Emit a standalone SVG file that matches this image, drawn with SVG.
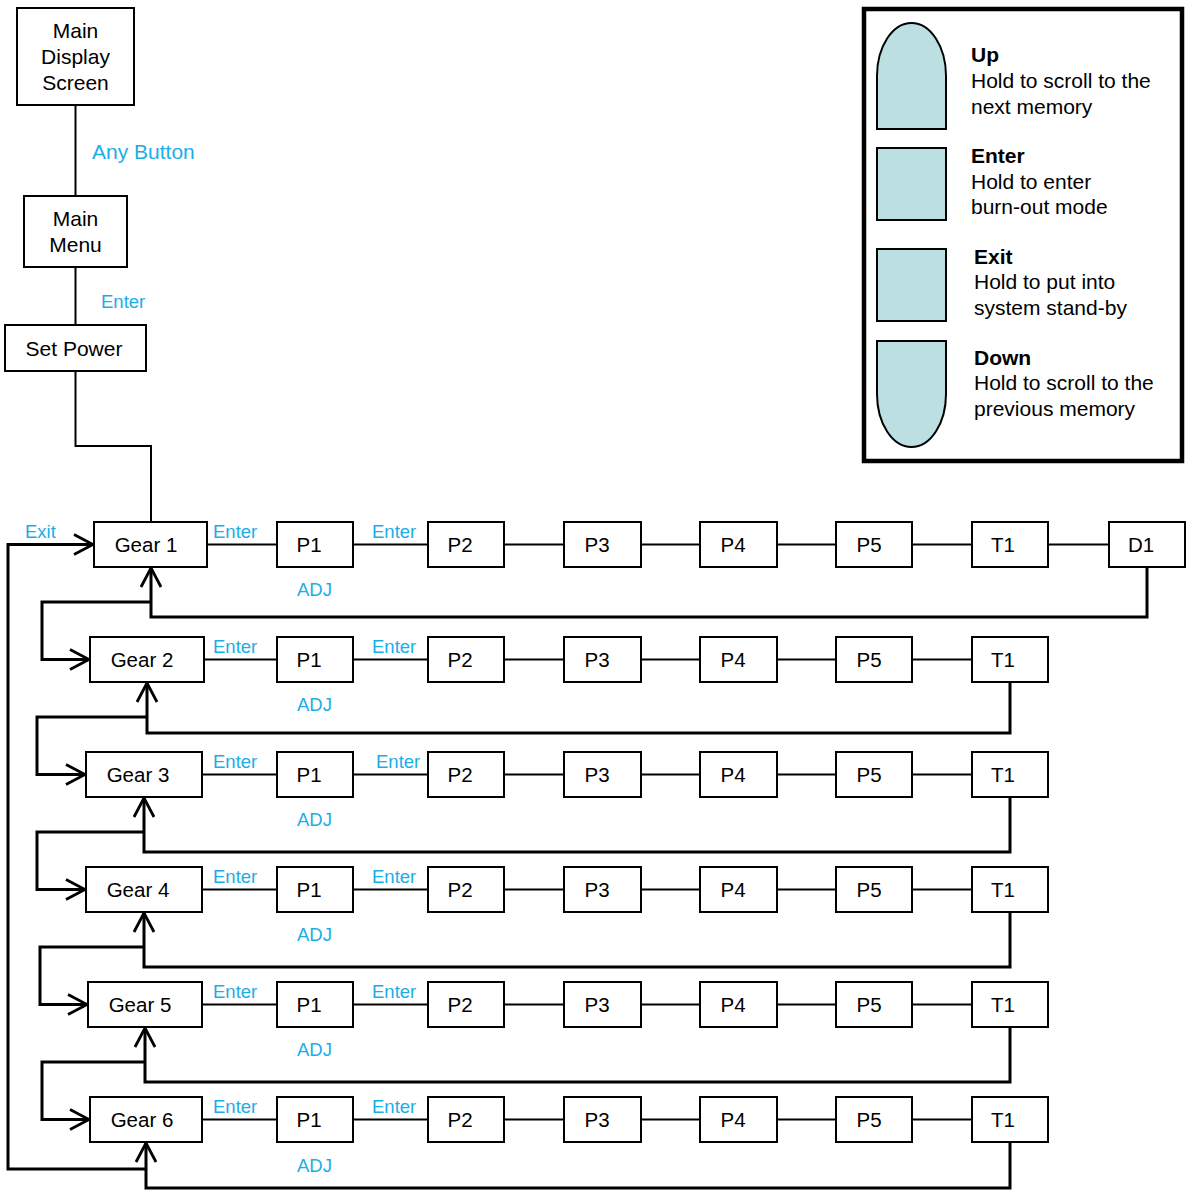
<svg xmlns="http://www.w3.org/2000/svg" width="1188" height="1190" viewBox="0 0 1188 1190">
<style>
.box{fill:#fff;stroke:#000;stroke-width:2}
.t{font-family:"Liberation Sans",Arial,sans-serif;font-size:20.5px;fill:#000;text-anchor:middle}
.tt{font-family:"Liberation Sans",Arial,sans-serif;font-size:21px;fill:#000;text-anchor:middle}
.lbl{font-family:"Liberation Sans",Arial,sans-serif;font-size:18.5px;fill:#1aaee8}
.lg{font-family:"Liberation Sans",Arial,sans-serif;font-size:21px;fill:#000}
.lgb{font-weight:bold}
.c{fill:none;stroke:#000;stroke-width:2}
.r{fill:none;stroke:#000;stroke-width:3}
.btn{fill:#bcdfe2;stroke:#000;stroke-width:2}
</style>
<defs>
<marker id="arr" viewBox="-22 -12 24 24" markerWidth="24" markerHeight="24" refX="0" refY="0" orient="auto" markerUnits="userSpaceOnUse">
<path d="M-19,-10 L0,0 L-19,10" fill="none" stroke="#000" stroke-width="2.8"/>
</marker>
</defs>
<rect width="1188" height="1190" fill="#fff"/>
<g id="connectors">
<path class="c" d="M75.5,105 V196"/>
<path class="c" d="M75.5,267 V325"/>
<path class="c" d="M75.5,371 V446 H151 V522"/>
<path class="c" d="M207,544.5 H277 M353,544.5 H428 M504,544.5 H564 M641,544.5 H700 M777,544.5 H836 M912,544.5 H972 M1048,544.5 H1109"/>
<path class="c" d="M204,659.5 H277 M353,659.5 H428 M504,659.5 H564 M641,659.5 H700 M777,659.5 H836 M912,659.5 H972"/>
<path class="c" d="M202,774.5 H277 M353,774.5 H428 M504,774.5 H564 M641,774.5 H700 M777,774.5 H836 M912,774.5 H972"/>
<path class="c" d="M202,889.5 H277 M353,889.5 H428 M504,889.5 H564 M641,889.5 H700 M777,889.5 H836 M912,889.5 H972"/>
<path class="c" d="M202,1004.5 H277 M353,1004.5 H428 M504,1004.5 H564 M641,1004.5 H700 M777,1004.5 H836 M912,1004.5 H972"/>
<path class="c" d="M202,1119.5 H277 M353,1119.5 H428 M504,1119.5 H564 M641,1119.5 H700 M777,1119.5 H836 M912,1119.5 H972"/>
<path class="r" marker-end="url(#arr)" d="M1147,567 V617 H151 V568"/>
<path class="r" marker-end="url(#arr)" d="M1010,682 V733 H147 V683"/>
<path class="r" marker-end="url(#arr)" d="M1010,797 V852 H144 V798"/>
<path class="r" marker-end="url(#arr)" d="M1010,912 V967 H144 V913"/>
<path class="r" marker-end="url(#arr)" d="M1010,1027 V1082 H145 V1028"/>
<path class="r" marker-end="url(#arr)" d="M1010,1142 V1188 H146 V1143"/>
<path class="r" marker-end="url(#arr)" d="M151,602 H42 V659.5 H89"/>
<path class="r" marker-end="url(#arr)" d="M147,717 H37 V774.5 H85"/>
<path class="r" marker-end="url(#arr)" d="M144,832 H37 V889.5 H85"/>
<path class="r" marker-end="url(#arr)" d="M144,947 H40 V1004.5 H87"/>
<path class="r" marker-end="url(#arr)" d="M145,1062 H42 V1119.5 H89"/>
<path class="r" marker-end="url(#arr)" d="M146,1169 H8 V544.5 H93"/>
</g>
<g id="labels">
<text class="lbl" x="92" y="159" style="font-size:21px">Any Button</text>
<text class="lbl" x="101" y="308">Enter</text>
<text class="lbl" x="25" y="538">Exit</text>
<text class="lbl" x="213" y="538">Enter</text><text class="lbl" x="372" y="538">Enter</text><text class="lbl" x="297" y="596">ADJ</text>
<text class="lbl" x="213" y="653">Enter</text><text class="lbl" x="372" y="653">Enter</text><text class="lbl" x="297" y="711">ADJ</text>
<text class="lbl" x="213" y="768">Enter</text><text class="lbl" x="376" y="768">Enter</text><text class="lbl" x="297" y="826">ADJ</text>
<text class="lbl" x="213" y="883">Enter</text><text class="lbl" x="372" y="883">Enter</text><text class="lbl" x="297" y="941">ADJ</text>
<text class="lbl" x="213" y="998">Enter</text><text class="lbl" x="372" y="998">Enter</text><text class="lbl" x="297" y="1056">ADJ</text>
<text class="lbl" x="213" y="1113">Enter</text><text class="lbl" x="372" y="1113">Enter</text><text class="lbl" x="297" y="1172">ADJ</text>
</g>
<g id="main-display"><rect class="box" x="17" y="8" width="117" height="97"/><text class="tt" x="75.5" y="38">Main</text><text class="tt" x="75.5" y="64">Display</text><text class="tt" x="75.5" y="90">Screen</text></g>
<g id="main-menu"><rect class="box" x="24" y="196" width="103" height="71"/><text class="tt" x="75.5" y="226">Main</text><text class="tt" x="75.5" y="252">Menu</text></g>
<g id="set-power"><rect class="box" x="5" y="325" width="141" height="46"/><text class="tt" x="74" y="356">Set Power</text></g>

<g id="gear1"><rect class="box" x="94" y="522" width="113" height="45"/><text class="t" x="146" y="552">Gear 1</text></g>
<g id="gear2"><rect class="box" x="90" y="637" width="114" height="45"/><text class="t" x="142" y="667">Gear 2</text></g>
<g id="gear3"><rect class="box" x="86" y="752" width="116" height="45"/><text class="t" x="138" y="782">Gear 3</text></g>
<g id="gear4"><rect class="box" x="86" y="867" width="116" height="45"/><text class="t" x="138" y="897">Gear 4</text></g>
<g id="gear5"><rect class="box" x="88" y="982" width="114" height="45"/><text class="t" x="140" y="1012">Gear 5</text></g>
<g id="gear6"><rect class="box" x="90" y="1097" width="112" height="45"/><text class="t" x="142" y="1127">Gear 6</text></g>

<g id="r1-p1"><rect class="box" x="277" y="522" width="76" height="45"/><text class="t" x="309" y="552">P1</text></g>
<g id="r1-p2"><rect class="box" x="428" y="522" width="76" height="45"/><text class="t" x="460" y="552">P2</text></g>
<g id="r1-p3"><rect class="box" x="564" y="522" width="77" height="45"/><text class="t" x="597" y="552">P3</text></g>
<g id="r1-p4"><rect class="box" x="700" y="522" width="77" height="45"/><text class="t" x="733" y="552">P4</text></g>
<g id="r1-p5"><rect class="box" x="836" y="522" width="76" height="45"/><text class="t" x="869" y="552">P5</text></g>
<g id="r1-t1"><rect class="box" x="972" y="522" width="76" height="45"/><text class="t" x="1003" y="552">T1</text></g>
<g id="r1-d1"><rect class="box" x="1109" y="522" width="76" height="45"/><text class="t" x="1141" y="552">D1</text></g>

<g id="r2-p1"><rect class="box" x="277" y="637" width="76" height="45"/><text class="t" x="309" y="667">P1</text></g>
<g id="r2-p2"><rect class="box" x="428" y="637" width="76" height="45"/><text class="t" x="460" y="667">P2</text></g>
<g id="r2-p3"><rect class="box" x="564" y="637" width="77" height="45"/><text class="t" x="597" y="667">P3</text></g>
<g id="r2-p4"><rect class="box" x="700" y="637" width="77" height="45"/><text class="t" x="733" y="667">P4</text></g>
<g id="r2-p5"><rect class="box" x="836" y="637" width="76" height="45"/><text class="t" x="869" y="667">P5</text></g>
<g id="r2-t1"><rect class="box" x="972" y="637" width="76" height="45"/><text class="t" x="1003" y="667">T1</text></g>

<g id="r3-p1"><rect class="box" x="277" y="752" width="76" height="45"/><text class="t" x="309" y="782">P1</text></g>
<g id="r3-p2"><rect class="box" x="428" y="752" width="76" height="45"/><text class="t" x="460" y="782">P2</text></g>
<g id="r3-p3"><rect class="box" x="564" y="752" width="77" height="45"/><text class="t" x="597" y="782">P3</text></g>
<g id="r3-p4"><rect class="box" x="700" y="752" width="77" height="45"/><text class="t" x="733" y="782">P4</text></g>
<g id="r3-p5"><rect class="box" x="836" y="752" width="76" height="45"/><text class="t" x="869" y="782">P5</text></g>
<g id="r3-t1"><rect class="box" x="972" y="752" width="76" height="45"/><text class="t" x="1003" y="782">T1</text></g>

<g id="r4-p1"><rect class="box" x="277" y="867" width="76" height="45"/><text class="t" x="309" y="897">P1</text></g>
<g id="r4-p2"><rect class="box" x="428" y="867" width="76" height="45"/><text class="t" x="460" y="897">P2</text></g>
<g id="r4-p3"><rect class="box" x="564" y="867" width="77" height="45"/><text class="t" x="597" y="897">P3</text></g>
<g id="r4-p4"><rect class="box" x="700" y="867" width="77" height="45"/><text class="t" x="733" y="897">P4</text></g>
<g id="r4-p5"><rect class="box" x="836" y="867" width="76" height="45"/><text class="t" x="869" y="897">P5</text></g>
<g id="r4-t1"><rect class="box" x="972" y="867" width="76" height="45"/><text class="t" x="1003" y="897">T1</text></g>

<g id="r5-p1"><rect class="box" x="277" y="982" width="76" height="45"/><text class="t" x="309" y="1012">P1</text></g>
<g id="r5-p2"><rect class="box" x="428" y="982" width="76" height="45"/><text class="t" x="460" y="1012">P2</text></g>
<g id="r5-p3"><rect class="box" x="564" y="982" width="77" height="45"/><text class="t" x="597" y="1012">P3</text></g>
<g id="r5-p4"><rect class="box" x="700" y="982" width="77" height="45"/><text class="t" x="733" y="1012">P4</text></g>
<g id="r5-p5"><rect class="box" x="836" y="982" width="76" height="45"/><text class="t" x="869" y="1012">P5</text></g>
<g id="r5-t1"><rect class="box" x="972" y="982" width="76" height="45"/><text class="t" x="1003" y="1012">T1</text></g>

<g id="r6-p1"><rect class="box" x="277" y="1097" width="76" height="45"/><text class="t" x="309" y="1127">P1</text></g>
<g id="r6-p2"><rect class="box" x="428" y="1097" width="76" height="45"/><text class="t" x="460" y="1127">P2</text></g>
<g id="r6-p3"><rect class="box" x="564" y="1097" width="77" height="45"/><text class="t" x="597" y="1127">P3</text></g>
<g id="r6-p4"><rect class="box" x="700" y="1097" width="77" height="45"/><text class="t" x="733" y="1127">P4</text></g>
<g id="r6-p5"><rect class="box" x="836" y="1097" width="76" height="45"/><text class="t" x="869" y="1127">P5</text></g>
<g id="r6-t1"><rect class="box" x="972" y="1097" width="76" height="45"/><text class="t" x="1003" y="1127">T1</text></g>

<g id="legend">
<rect x="864" y="9" width="318" height="452" fill="#fff" stroke="#000" stroke-width="4.5"/>
<path class="btn" d="M877,129 V76 A34.5,53 0 0 1 946,76 V129 Z"/>
<text class="lg lgb" x="971" y="62">Up</text>
<text class="lg" x="971" y="88">Hold to scroll to the</text>
<text class="lg" x="971" y="114">next memory</text>
<rect class="btn" x="877" y="148" width="69" height="72"/>
<text class="lg lgb" x="971" y="163">Enter</text>
<text class="lg" x="971" y="189">Hold to enter</text>
<text class="lg" x="971" y="214">burn-out mode</text>
<rect class="btn" x="877" y="249" width="69" height="72"/>
<text class="lg lgb" x="974" y="264">Exit</text>
<text class="lg" x="974" y="289">Hold to put into</text>
<text class="lg" x="974" y="315">system stand-by</text>
<path class="btn" d="M877,341 H946 V394 A34.5,53 0 0 1 877,394 Z"/>
<text class="lg lgb" x="974" y="365">Down</text>
<text class="lg" x="974" y="390">Hold to scroll to the</text>
<text class="lg" x="974" y="416">previous memory</text>
</g>
</svg>
